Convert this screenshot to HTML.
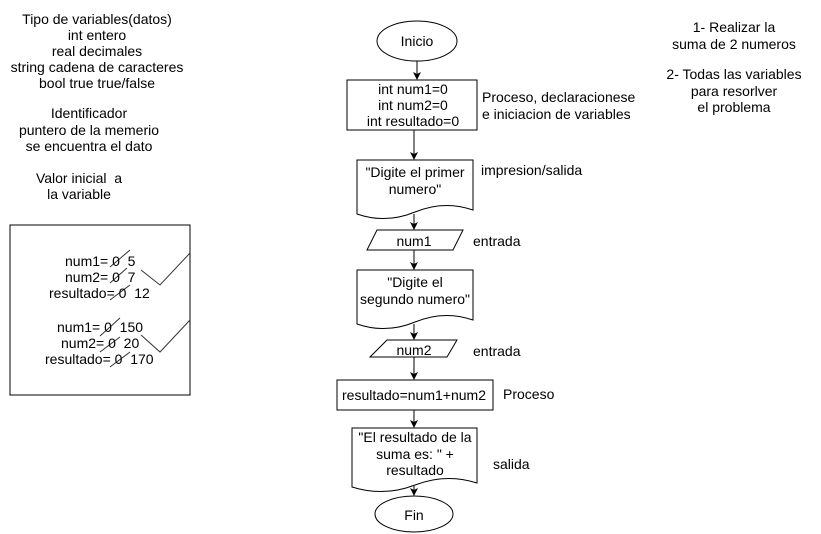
<!DOCTYPE html>
<html><head><meta charset="utf-8"><style>
html,body{margin:0;padding:0;background:#fff;}
svg{display:block;font-family:"Liberation Sans",Arial,sans-serif;font-size:14px;}
text{white-space:pre;}
</style></head><body>
<svg width="821" height="534" viewBox="0 0 821 534" xmlns="http://www.w3.org/2000/svg" xml:space="preserve">
<defs><marker id="a" markerWidth="8" markerHeight="8" refX="7" refY="4" orient="auto" markerUnits="userSpaceOnUse"><path d="M0,0 L8,4 L0,8 L2,4 z" fill="#000"/></marker></defs>
<g fill="#fff" stroke="#000" stroke-width="1">
<ellipse cx="417" cy="41" rx="40" ry="20"/>
<rect x="347" y="80" width="130" height="50"/>
<path d="M357,160 H473 V210 Q444,200 415,212 Q386,224 357,214 Z"/>
<path d="M377,230 H463 L453,250 H367 Z"/>
<path d="M357,270 H473 V320 Q444,310 415,322 Q386,334 357,324 Z"/>
<path d="M387,340 H457 L447,357 H370 Z"/>
<rect x="337" y="380" width="156" height="30"/>
<path d="M352,428 H477 V483 Q446,473 415,485 Q384,497 352,487 Z"/>
<ellipse cx="414" cy="514" rx="39" ry="18"/>
<rect x="10" y="225" width="180" height="170"/>
</g>
<g stroke="#000" fill="none" marker-end="url(#a)">
<line x1="417" y1="61" x2="417" y2="79"/>
<line x1="414" y1="130" x2="414" y2="159"/>
<line x1="414" y1="214" x2="414" y2="229"/>
<line x1="414" y1="250" x2="414" y2="269"/>
<line x1="414" y1="324" x2="414" y2="339"/>
<line x1="414" y1="357" x2="414" y2="379"/>
<line x1="414" y1="410" x2="414" y2="427"/>
<line x1="414" y1="486" x2="414" y2="495"/>
</g>
<g stroke="#333" fill="none">
<path d="M141,270 L160,285 L190,253"/>
<path d="M141,335 L160,352 L190,320"/>
<line x1="110" y1="267" x2="130" y2="250"/>
<line x1="110" y1="283" x2="127" y2="268"/>
<line x1="110" y1="300" x2="130" y2="285"/>
<line x1="100" y1="336" x2="120" y2="318"/>
<line x1="100" y1="352" x2="120" y2="337"/>
<line x1="110" y1="367" x2="130" y2="352"/>
</g>
<g fill="#000" text-anchor="middle">
<text x="417" y="46">Inicio</text>
<text x="413" y="94">int num1=0</text>
<text x="413" y="110">int num2=0</text>
<text x="413" y="126">int resultado=0</text>
<text x="415" y="177">"Digite el primer</text>
<text x="415" y="194">numero"</text>
<text x="414" y="246">num1</text>
<text x="415" y="287">"Digite el</text>
<text x="415" y="304">segundo numero"</text>
<text x="414" y="355">num2</text>
<text x="414" y="400">resultado=num1+num2</text>
<text x="415" y="442">"El resultado de la</text>
<text x="415" y="459">suma es: " +</text>
<text x="415" y="475">resultado</text>
<text x="414" y="520">Fin</text>
<text x="97" y="24">Tipo de variables(datos)</text>
<text x="97" y="40">int entero</text>
<text x="97" y="56">real decimales</text>
<text x="97" y="72">string cadena de caracteres</text>
<text x="97" y="88">bool true true/false</text>
<text x="89" y="118">Identificador</text>
<text x="89" y="135">puntero de la memerio</text>
<text x="89" y="151">se encuentra el dato</text>
<text x="79" y="183">Valor inicial  a</text>
<text x="79" y="199">la variable</text>
<text x="734" y="32">1- Realizar la</text>
<text x="734" y="49">suma de 2 numeros</text>
<text x="734" y="79">2- Todas las variables</text>
<text x="734" y="96">para resorlver</text>
<text x="734" y="112">el problema</text>
</g>
<g fill="#000">
<text x="482" y="102">Proceso, declaracionese</text>
<text x="482" y="119">e iniciacion de variables</text>
<text x="481" y="175">impresion/salida</text>
<text x="473" y="246">entrada</text>
<text x="473" y="356">entrada</text>
<text x="503" y="399">Proceso</text>
<text x="493" y="469">salida</text>
<text x="65" y="266">num1= 0  5</text>
<text x="65" y="282">num2= 0  7</text>
<text x="49" y="298">resultado= 0  12</text>
<text x="57" y="332">num1= 0  150</text>
<text x="61" y="348">num2= 0  20</text>
<text x="45" y="364">resultado= 0  170</text>
</g>
</svg>
</body></html>
